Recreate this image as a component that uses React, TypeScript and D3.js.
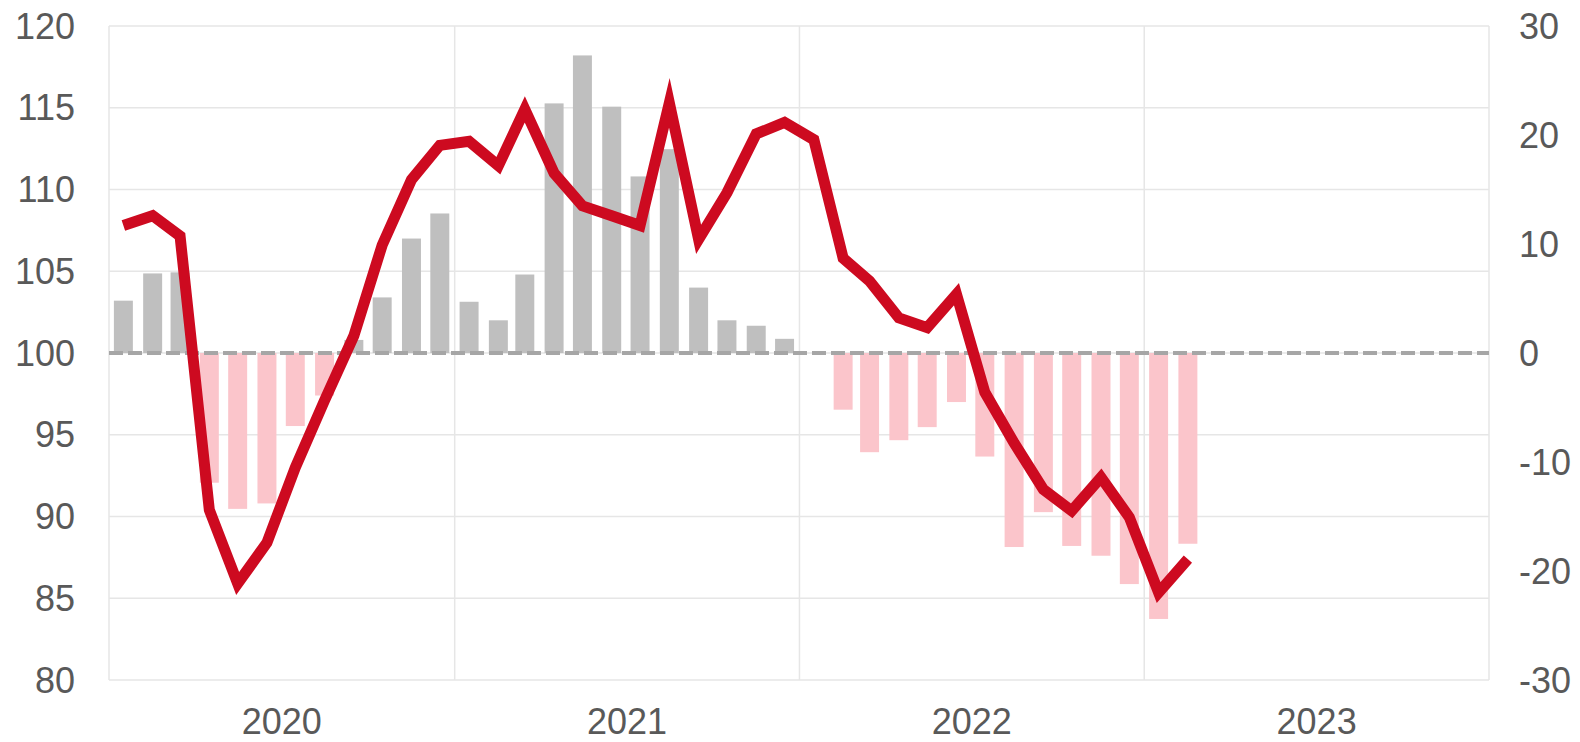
import React from 'react';
import * as d3 from 'd3';

// monthly data, Jan 2020 .. Feb 2023
const months = d3.timeMonths(new Date(2020, 0, 1), new Date(2023, 2, 1));

// year-on-year change, right axis (%)
const changeValues = [
  4.8, 7.3, 7.4, -11.9, -14.3, -13.8, -6.7, -3.9, 1.2, 5.1, 10.5, 12.8,
  4.7, 3.0, 7.2, 22.9, 27.3, 22.6, 16.2, 18.7, 6.0, 3.0, 2.5, 1.3,
  0, -5.2, -9.1, -8.0, -6.8, -4.5, -9.5, -17.8, -14.6, -17.7, -18.6, -21.2,
  -24.4, -17.5,
];

// index level, left axis
const indexValues = [
  107.8, 108.4, 107.15, 90.4, 85.9, 88.4, 93.0, 97.1, 101.05, 106.6, 110.6, 112.7,
  112.95, 111.45, 114.9, 111.0, 109.0, 108.4, 107.8, 115.3, 106.95, 109.8, 113.4, 114.1,
  113.05, 105.8, 104.4, 102.15, 101.55, 103.6, 97.6, 94.5, 91.65, 90.35, 92.4, 89.95,
  85.35, 87.4,
];

const years = [2020, 2021, 2022, 2023];
const leftTicks = [80, 85, 90, 95, 100, 105, 110, 115, 120];
const rightTicks = [-30, -20, -10, 0, 10, 20, 30];

const width = 1580;
const height = 742;
const margin = {top: 26, right: 91, bottom: 62, left: 109};

const font = '"Liberation Sans", Arial, sans-serif';
const textColor = '#595959';

export default function App() {
  const x = d3
    .scaleTime()
    .domain([new Date(2020, 0, 1), new Date(2024, 0, 1)])
    .range([margin.left, width - margin.right]);
  const yLeft = d3.scaleLinear().domain([80, 120]).range([height - margin.bottom, margin.top]);
  const yRight = d3.scaleLinear().domain([-30, 30]).range([height - margin.bottom, margin.top]);

  const monthWidth = (x(new Date(2024, 0, 1)) - x(new Date(2020, 0, 1))) / 48;
  const barWidth = monthWidth * 0.66;
  const mid = (d: Date) => x(d) + monthWidth / 2;

  const line = d3
    .line<number>()
    .x((_, i) => mid(months[i]))
    .y(d => yLeft(d));

  const yearStarts = years.map(y => new Date(y, 0, 1)).concat([new Date(2024, 0, 1)]);

  return (
    <svg
      width={width}
      height={height}
      style={{position: 'absolute', left: 0, top: 0, background: '#fff'}}
      fontFamily={font}
    >
      {/* horizontal gridlines */}
      {leftTicks.map(t => (
        <line
          key={'h' + t}
          x1={margin.left}
          x2={width - margin.right}
          y1={yLeft(t)}
          y2={yLeft(t)}
          stroke="#e6e6e6"
          strokeWidth={1.5}
        />
      ))}
      {/* vertical year gridlines */}
      {yearStarts.map(d => (
        <line
          key={'v' + d.getFullYear()}
          x1={x(d)}
          x2={x(d)}
          y1={margin.top}
          y2={height - margin.bottom}
          stroke="#e6e6e6"
          strokeWidth={1.5}
        />
      ))}

      {/* bars */}
      {changeValues.map((v, i) => (
        <rect
          key={'b' + i}
          x={mid(months[i]) - barWidth / 2}
          width={barWidth}
          y={v >= 0 ? yRight(v) : yRight(0)}
          height={Math.abs(yRight(v) - yRight(0))}
          fill={v >= 0 ? '#bfbfbf' : '#fbc5cb'}
        />
      ))}

      {/* zero line */}
      <line
        x1={margin.left}
        x2={width - margin.right}
        y1={yLeft(100)}
        y2={yLeft(100)}
        stroke="#a6a6a6"
        strokeWidth={4}
        strokeDasharray="14 5"
      />

      {/* index line */}
      <path
        d={line(indexValues) || ''}
        fill="none"
        stroke="#cd0a20"
        strokeWidth={11}
        strokeLinejoin="miter"
        strokeMiterlimit={10}
      />

      {/* left axis labels */}
      {leftTicks.map(t => (
        <text
          key={'l' + t}
          x={75}
          y={yLeft(t)}
          dy="0.35em"
          textAnchor="end"
          fontSize={36}
          fill={textColor}
        >
          {t}
        </text>
      ))}
      {/* right axis labels */}
      {rightTicks.map(t => (
        <text
          key={'r' + t}
          x={1519}
          y={yRight(t)}
          dy="0.35em"
          textAnchor="start"
          fontSize={36}
          fill={textColor}
        >
          {t}
        </text>
      ))}
      {/* year labels */}
      {years.map(y => (
        <text
          key={'y' + y}
          x={(x(new Date(y, 0, 1)) + x(new Date(y + 1, 0, 1))) / 2}
          y={734}
          textAnchor="middle"
          fontSize={36}
          fill={textColor}
        >
          {y}
        </text>
      ))}
    </svg>
  );
}
